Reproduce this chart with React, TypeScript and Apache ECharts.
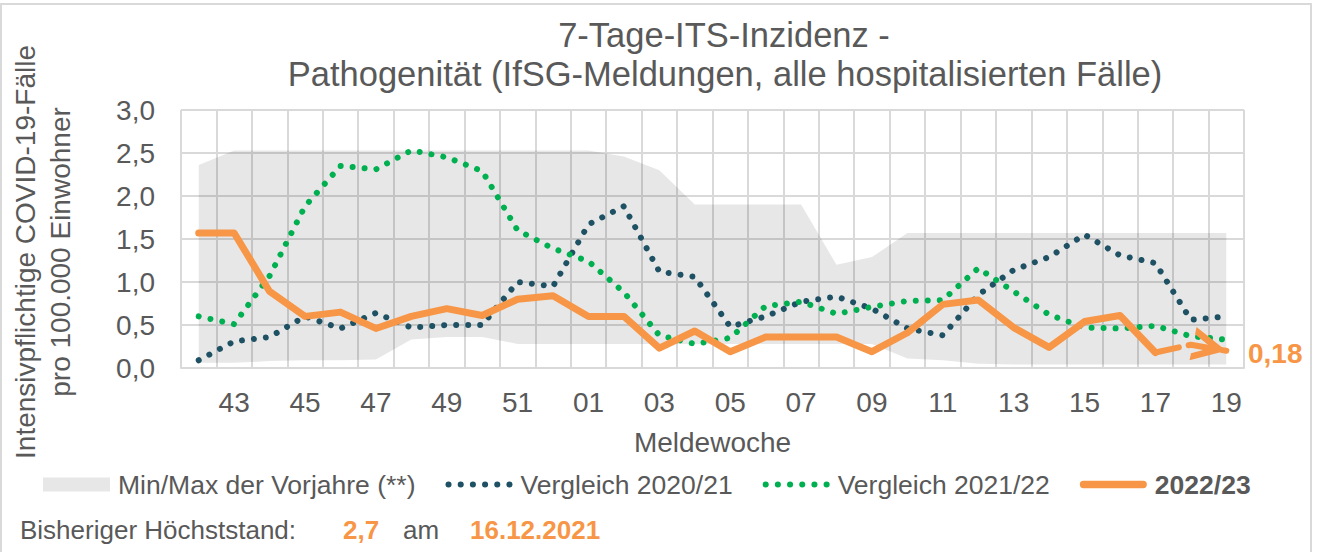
import React, { useEffect, useRef } from 'react';
import * as echarts from 'echarts';

// ---------- data ----------
const weeks = ['42','43','44','45','46','47','48','49','50','51','52','01','02','03','04','05','06','07','08','09','10','11','12','13','14','15','16','17','18','19'];

const minPrevYears = [0.06,0.06,0.08,0.09,0.09,0.10,0.33,0.36,0.36,0.28,0.28,0.28,0.28,0.28,0.28,0.28,0.28,0.28,0.28,0.28,0.11,0.09,0.05,0.04,0.04,0.04,0.04,0.04,0.04,0.04];
const maxPrevYears = [2.36,2.53,2.53,2.53,2.53,2.53,2.53,2.53,2.53,2.53,2.53,2.53,2.46,2.30,1.90,1.90,1.90,1.90,1.20,1.29,1.57,1.57,1.57,1.57,1.57,1.57,1.57,1.57,1.57,1.57];
const vergleich2020_21 = [0.09,0.31,0.36,0.60,0.46,0.64,0.47,0.50,0.50,1.00,0.95,1.67,1.88,1.12,1.06,0.48,0.60,0.77,0.83,0.69,0.46,0.38,0.85,1.14,1.29,1.55,1.31,1.22,0.56,0.60];
const vergleich2021_22 = [0.60,0.51,1.07,1.88,2.35,2.31,2.53,2.45,2.29,1.60,1.39,1.24,0.88,0.38,0.28,0.35,0.72,0.77,0.63,0.71,0.78,0.79,1.16,0.89,0.62,0.47,0.46,0.49,0.37,0.33];
const saison2022_23 = [1.57,1.57,0.89,0.60,0.65,0.46,0.60,0.69,0.61,0.80,0.84,0.60,0.60,0.23,0.43,0.19,0.36,0.36,0.36,0.19,0.41,0.74,0.79,0.47,0.24,0.54,0.61,0.18,null,null];
const trend2022_23 = [null,null,null,null,null,null,null,null,null,null,null,null,null,null,null,null,null,null,null,null,null,null,null,null,null,null,null,0.18,0.27,0.20];

const seriesNames = ['Min/Max der Vorjahre (**)', 'Vergleich 2020/21', 'Vergleich 2021/22', '2022/23'];
const titleLines = ['7-Tage-ITS-Inzidenz -', 'Pathogenität (IfSG-Meldungen, alle hospitalisierten Fälle)'];
const yAxisTitle = ['Intensivpflichtige COVID-19-Fälle', 'pro 100.000 Einwohner'];
const xAxisTitle = 'Meldewoche';
const currentValue = '0,18';
const peakLabel = 'Bisheriger Höchststand:';
const peakValue = '2,7';
const peakWord = 'am';
const peakDate = '16.12.2021';

// ---------- styles ----------
const FONT = "'Liberation Sans', Arial, Helvetica, sans-serif";
const TEXT = '#595959';
const GRID = '#D9D9D9';
const ORANGE = '#F79646';
const GREEN = '#00B050';
const TEAL = '#1E5163';
const BAND = 'rgba(0,0,0,0.095)';

function dotsIcon(n: number, r: number, step: number): string {
  let d = '';
  for (let i = 0; i < n; i++) {
    const cx = r + i * step;
    d += `M${cx - r},${r}A${r},${r} 0 1,0 ${cx + r},${r}A${r},${r} 0 1,0 ${cx - r},${r}Z`;
  }
  return 'path://' + d;
}
const lineIcon = 'path://M4,0L69,0A4,4 0 0,1 69,8L4,8A4,4 0 0,1 4,0Z';
const arrowHead = 'path://M0,0L30.5,15L0,30L0,23.5L17,15L0,6.5ZM61,14.95L61,15.05L60.95,15Z';

export default function App() {
  const ref = useRef<HTMLDivElement>(null);

  useEffect(() => {
    if (!ref.current) return;
    const chart = echarts.init(ref.current, undefined, { renderer: 'svg' });
    const bandDiff = maxPrevYears.map((v, i) => +(v - minPrevYears[i]).toFixed(3));
    const lastIdx = trend2022_23.length - 1;

    chart.setOption({
      animation: false,
      textStyle: { fontFamily: FONT },
      grid: { left: 181, right: 73, top: 110, bottom: 184, containLabel: false },
      legend: {
        left: 38,
        top: 466,
        itemWidth: 67,
        itemHeight: 14,
        itemGap: 30,
        selectedMode: false,
        textStyle: {
          color: TEXT, fontSize: 26.5, fontFamily: FONT, padding: [0, 0, 0, 3],
          rich: { b: { fontWeight: 'bold', fontSize: 26.5, color: TEXT, fontFamily: FONT } },
        },
        formatter: (n: string) => (n === '2022/23' ? `{b|${n}}` : n),
        data: [
          { name: seriesNames[0], icon: 'rect', itemStyle: { color: '#E7E7E7', borderWidth: 0 } },
          { name: seriesNames[1], icon: dotsIcon(6, 3, 12), itemStyle: { color: TEAL, borderWidth: 0 } },
          { name: seriesNames[2], icon: dotsIcon(6, 3, 12), itemStyle: { color: GREEN, borderWidth: 0 } },
          { name: seriesNames[3], icon: lineIcon, itemStyle: { color: ORANGE, borderWidth: 0 } },
        ],
      },
      xAxis: {
        type: 'category',
        data: weeks,
        boundaryGap: true,
        axisLine: { show: true, lineStyle: { color: GRID, width: 2 } },
        axisTick: { show: false },
        axisLabel: {
          interval: (i: number) => i % 2 === 1,
          color: TEXT, fontSize: 28, fontFamily: FONT, margin: 20,
        },
        splitLine: { show: true, interval: 0, lineStyle: { color: GRID, width: 2 } },
        name: xAxisTitle,
        nameLocation: 'middle',
        nameGap: 60,
        nameTextStyle: { color: TEXT, fontSize: 28, fontFamily: FONT },
      },
      yAxis: {
        type: 'value',
        min: 0,
        max: 3,
        interval: 0.5,
        axisLine: { show: false },
        axisTick: { show: false },
        axisLabel: {
          color: TEXT, fontSize: 28, fontFamily: FONT, margin: 26,
          formatter: (v: number) => v.toFixed(1).replace('.', ','),
        },
        splitLine: { show: true, lineStyle: { color: GRID, width: 2 } },
      },
      series: [
        {
          name: 'minBase', type: 'line', data: minPrevYears, stack: 'band', symbol: 'none',
          lineStyle: { width: 0, opacity: 0 }, silent: true, z: 1,
        },
        {
          name: seriesNames[0], type: 'line', data: bandDiff, stack: 'band', symbol: 'none',
          lineStyle: { width: 0, opacity: 0 }, areaStyle: { color: BAND, opacity: 1 },
          itemStyle: { color: '#E7E7E7' }, silent: true, z: 1,
        },
        {
          name: seriesNames[1], type: 'line', data: vergleich2020_21, symbol: 'none',
          itemStyle: { color: TEAL },
          lineStyle: { color: TEAL, width: 6, type: [0.01, 12], cap: 'round', join: 'round' }, z: 3,
        },
        {
          name: seriesNames[2], type: 'line', data: vergleich2021_22, symbol: 'none',
          itemStyle: { color: GREEN },
          lineStyle: { color: GREEN, width: 6, type: [0.01, 12], cap: 'round', join: 'round' }, z: 3,
        },
        {
          name: seriesNames[3], type: 'line', data: saison2022_23, symbol: 'none',
          itemStyle: { color: ORANGE },
          lineStyle: { color: ORANGE, width: 7, cap: 'round', join: 'round' }, z: 4,
        },
        {
          name: 'trend', type: 'line', symbol: 'none', showSymbol: true,
          data: trend2022_23.map((v, i) =>
            i === lastIdx && v != null
              ? { value: v, symbol: arrowHead, symbolSize: [68, 34], symbolRotate: -12, symbolKeepAspect: false }
              : v),
          itemStyle: { color: ORANGE },
          lineStyle: { color: ORANGE, width: 6, type: [24, 10], cap: 'round' }, z: 5, silent: true,
        },
      ],
      graphic: [
        { type: 'rect', shape: { x: 1, y: 4, width: 1310, height: 560 }, style: { fill: 'none', stroke: GRID, lineWidth: 2 }, silent: true },
        { type: 'text', x: 724, y: 35, style: { text: titleLines[0], fill: TEXT, fontSize: 34.5, fontFamily: FONT, align: 'center', verticalAlign: 'middle' } },
        { type: 'text', x: 725, y: 74, style: { text: titleLines[1], fill: TEXT, fontSize: 34.5, fontFamily: FONT, align: 'center', verticalAlign: 'middle' } },
        { type: 'text', x: 43, y: 252, rotation: Math.PI / 2, style: { text: yAxisTitle.join('\n'), fill: TEXT, fontSize: 28, lineHeight: 35, fontFamily: FONT, align: 'center', verticalAlign: 'middle' } },
        { type: 'text', x: 1248, y: 353, style: { text: currentValue, fill: ORANGE, fontSize: 28, fontWeight: 'bold', fontFamily: FONT, align: 'left', verticalAlign: 'middle' } },
        { type: 'text', x: 20, y: 530, style: { text: peakLabel, fill: TEXT, fontSize: 26, fontFamily: FONT, align: 'left', verticalAlign: 'middle' } },
        { type: 'text', x: 343, y: 530, style: { text: peakValue, fill: ORANGE, fontSize: 26, fontWeight: 'bold', fontFamily: FONT, align: 'left', verticalAlign: 'middle' } },
        { type: 'text', x: 403, y: 530, style: { text: peakWord, fill: TEXT, fontSize: 26, fontFamily: FONT, align: 'left', verticalAlign: 'middle' } },
        { type: 'text', x: 470, y: 530, style: { text: peakDate, fill: ORANGE, fontSize: 26, fontWeight: 'bold', fontFamily: FONT, align: 'left', verticalAlign: 'middle' } },
      ],
    });

    return () => chart.dispose();
  }, []);

  return (
    <div
      ref={ref}
      style={{ position: 'fixed', left: 0, top: 0, width: 1317, height: 552, background: '#ffffff' }}
    />
  );
}
